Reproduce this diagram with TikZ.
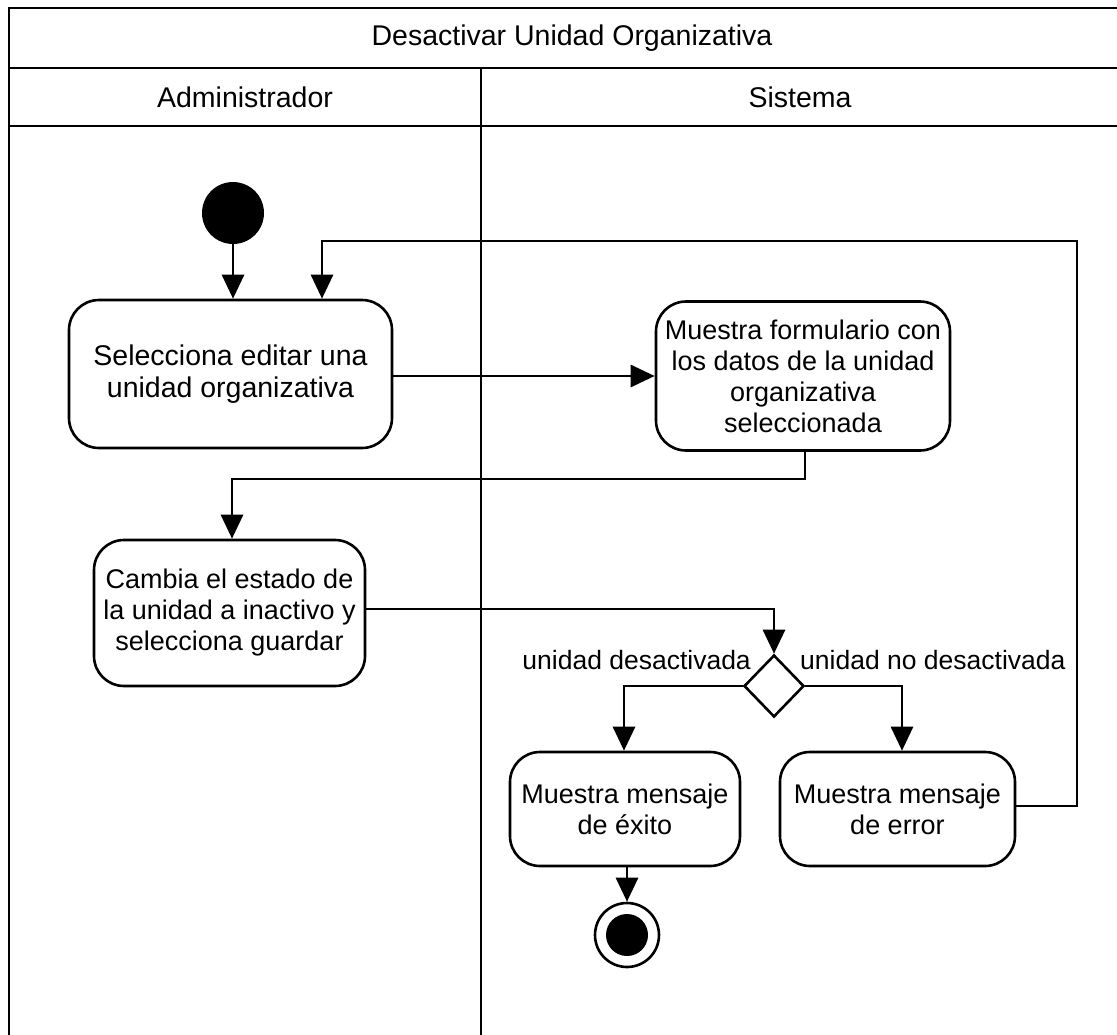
\documentclass[tikz,border=0pt]{standalone}
\usepackage{fontspec}
\setmainfont{Liberation Sans}
\usetikzlibrary{arrows.meta,shapes.geometric}
\begin{document}
\begin{tikzpicture}[x=1pt,y=-1pt,
  frame/.style={line width=2.2pt,draw=black},
  act/.style={draw,line width=2.6pt,rounded corners=30pt,align=center,font=\fontsize{27}{31}\selectfont,inner sep=0pt},
  conn/.style={line width=2.8pt,-{Triangle[length=24pt,width=22pt]}},
  lbl/.style={font=\fontsize{26.5}{30}\selectfont,inner sep=0pt},
  hdr/.style={font=\fontsize{28.5}{32}\selectfont}]
\useasboundingbox (0,0) rectangle (1117,1034);
% frame
\draw[frame] (1120,8) -- (9,8) -- (9,1036);
\draw[frame] (9,68) -- (1120,68);
\draw[frame] (9,126) -- (1120,126);
\draw[frame] (481,68) -- (481,1036);
\node[hdr] (title) at (572,38) {Desactivar Unidad Organizativa};
\node[hdr] (adm) at (245,97) {Administrador};
\node[hdr] (sis) at (800,97) {Sistema};
% nodes
\node[circle,fill=black,minimum size=62pt,inner sep=0pt] (start) at (233,213) {};
\node[act,minimum width=323pt,minimum height=148pt,font=\fontsize{28.5}{32}\selectfont] (b1) at (230.5,374) {Selecciona editar una\\unidad organizativa};
\node[act,minimum width=294pt,minimum height=149pt] (b2) at (803,376) {Muestra formulario con\\los datos de la unidad\\organizativa\\seleccionada};
\node[act,minimum width=271pt,minimum height=146pt] (b3) at (229.5,613) {Cambia el estado de\\la unidad a inactivo y\\selecciona guardar};
\node[diamond,draw,line width=2.6pt,minimum width=60pt,minimum height=62pt,inner sep=0pt] (d) at (774,686) {};
\node[act,minimum width=230pt,minimum height=114pt] (b4) at (625,809) {Muestra mensaje\\de éxito};
\node[act,minimum width=235pt,minimum height=114pt] (b5) at (897.5,809) {Muestra mensaje\\de error};
\node[circle,draw,line width=2.6pt,minimum size=64pt,inner sep=0pt] (end) at (627,935) {};
\node[circle,fill=black,minimum size=42pt,inner sep=0pt] (endin) at (end) {};
% labels
\node[lbl,anchor=south east] (l1) at (751,670) {unidad desactivada};
\node[lbl,anchor=south west] (l2) at (800,670) {unidad no desactivada};
% connectors
\draw[conn] (start.south) -- (b1.north -| start);
\draw[conn] (b1.east |- 0,376) -- (b2.west);
\draw[conn] (b2.south -| 805,0) -- (805,479) -- (232,479) -- (b3.north -| 232,0);
\draw[conn] (b3.east |- 0,609) -- (774,609) -- (d.north);
\draw[conn] (d.west) -- (624,686) -- (b4.north -| 624,0);
\draw[conn] (d.east) -- (902,686) -- (b5.north -| 902,0);
\draw[conn] (b4.south -| end) -- (end.north);
\draw[conn] (b5.east |- 0,806) -- (1077,806) -- (1077,241) -- (322,241) -- (b1.north -| 322,0);
\end{tikzpicture}
\end{document}
